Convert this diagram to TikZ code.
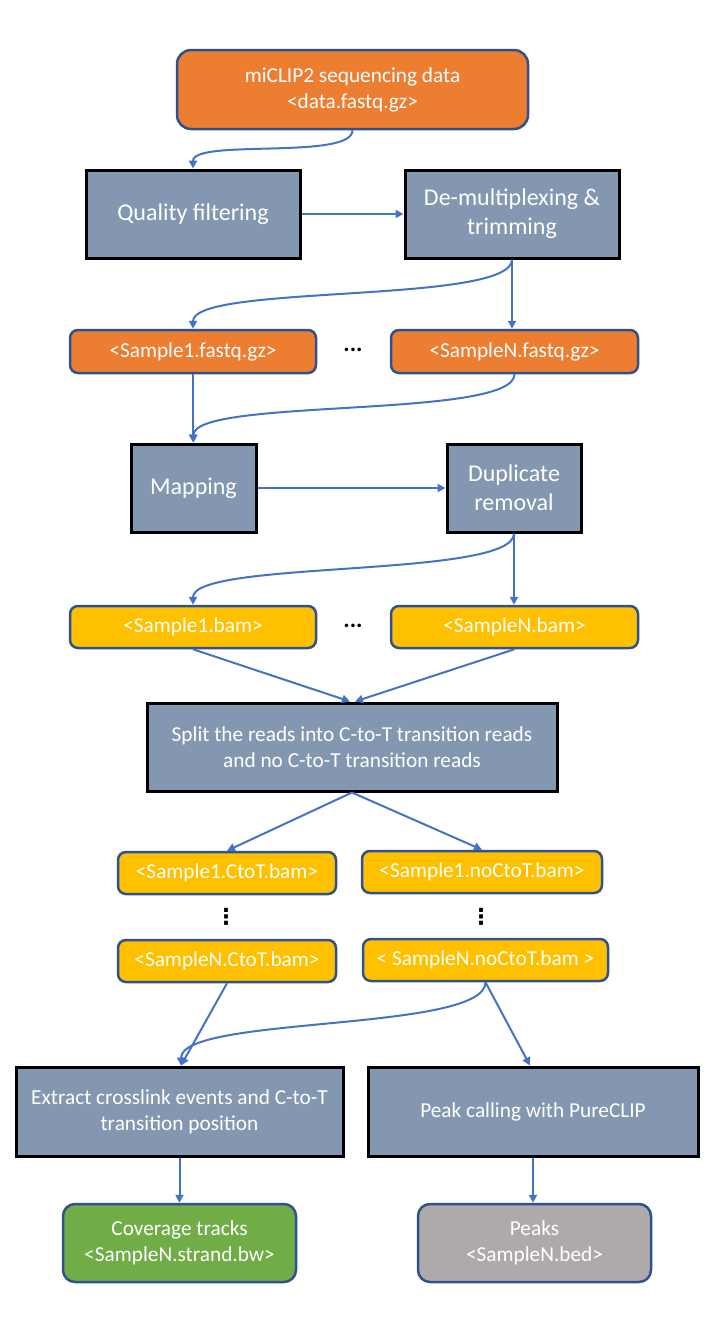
\documentclass[tikz,border=0pt]{standalone}
\usepackage{fontspec}
\setmainfont{Carlito}
\newfontfamily\dotsfont{DejaVu Sans}
\usetikzlibrary{arrows.meta}
\definecolor{fileorange}{HTML}{ED7D31}
\definecolor{fileyellow}{HTML}{FFC000}
\definecolor{stepgrey}{HTML}{8497B0}
\definecolor{boxblue}{HTML}{2F528F}
\definecolor{arrowblue}{HTML}{4472C4}
\definecolor{covgreen}{HTML}{70AD47}
\definecolor{peakgrey}{HTML}{AEAAAA}

\begin{document}
\begin{tikzpicture}[x=1pt,y=-1pt]
    \tikzset{%
      proc/.style={draw=black, line width=3pt, fill=stepgrey, text=white,
        align=center, inner sep=2pt},
      file/.style={draw=boxblue, line width=2.5pt, rounded corners=8pt,
        text=white, align=center, inner sep=2pt},
      link/.style={draw=arrowblue, line width=2pt,
        -{Triangle[length=8pt,width=8pt]}},
      big/.style={font=\fontsize{24}{29}\selectfont},
      small/.style={font=\fontsize{21.3}{26}\selectfont},
      hdots/.style={font=\fontsize{24}{24}\selectfont\bfseries},
      vdots/.style={font=\fontsize{22}{22}\dotsfont\bfseries},
    }
    \useasboundingbox (0,0) rectangle (720,1323);

    \node[file, small, fill=fileorange, rounded corners=14pt, minimum width=351pt,
      minimum height=79pt] (data) at (352.5,89.5)
      {miCLIP2 sequencing data\\<data.fastq.gz>};

    \node[proc, big, minimum width=214pt, minimum height=88pt] (qual) at (193,214)
      {Quality filtering};
    \node[proc, big, minimum width=214pt, minimum height=88pt] (demux) at (512,214)
      {De-multiplexing \&\\trimming};

    \node[file, small, fill=fileorange, minimum width=246pt, minimum height=43pt]
      (S1fq) at (193,351.5) {<Sample1.fastq.gz>};
    \node[hdots] (D1) at (353,350) {\textbf{...}};
    \node[file, small, fill=fileorange, minimum width=247pt, minimum height=43pt]
      (SNfq) at (514.5,351.5) {<SampleN.fastq.gz>};

    \node[proc, big, minimum width=125pt, minimum height=88pt] (map) at (193.5,488)
      {Mapping};
    \node[proc, big, minimum width=134pt, minimum height=88pt] (dup) at (514,488)
      {Duplicate\\removal};

    \node[file, small, fill=fileyellow, minimum width=246pt, minimum height=42pt]
      (S1bam) at (193,627) {<Sample1.bam>};
    \node[hdots] (D2) at (353,626) {\textbf{...}};
    \node[file, small, fill=fileyellow, minimum width=247pt, minimum height=42pt]
      (SNbam) at (514.5,627) {<SampleN.bam>};

    \node[proc, small, minimum width=410pt, minimum height=88pt] (split) at (352,747)
      {Split the reads into C-to-T transition reads\\and no C-to-T transition reads};

    \node[file, small, fill=fileyellow, minimum width=218pt, minimum height=42pt]
      (S1c) at (227,873) {<Sample1.CtoT.bam>};
    \node[file, small, fill=fileyellow, minimum width=240pt, minimum height=42pt]
      (S1n) at (482,872) {<Sample1.noCtoT.bam>};
    \node[vdots] (V1) at (226,917) {⋮};
    \node[vdots] (V2) at (481,917) {⋮};
    \node[file, small, fill=fileyellow, minimum width=218pt, minimum height=42pt]
      (SNc) at (227,961) {<SampleN.CtoT.bam>};
    \node[file, small, fill=fileyellow, minimum width=245pt, minimum height=42pt]
      (SNn) at (485.5,960) {< SampleN.noCtoT.bam >};

    \node[proc, small, minimum width=327pt, minimum height=89pt] (extr) at (179.5,1111.5)
      {Extract crosslink events and C-to-T\\transition position};
    \node[proc, small, minimum width=330pt, minimum height=89pt] (peak) at (533,1111.5)
      {Peak calling with PureCLIP};

    \node[file, small, fill=covgreen, rounded corners=12pt, minimum width=233pt,
      minimum height=78pt] (cov) at (179.5,1243)
      {Coverage tracks\\<SampleN.strand.bw>};
    \node[file, small, fill=peakgrey, rounded corners=12pt, minimum width=233pt,
      minimum height=78pt] (peaks) at (534.5,1243)
      {Peaks\\<SampleN.bed>};

    \draw [link] (data.south) .. controls +(0,30) and +(0,-30) .. (qual.north);
    \draw [link] (qual.east) -- (demux.west);
    \draw [link] (demux.south) .. controls +(0,45) and +(0,-45) .. (S1fq.north);
    \draw [link] (demux.south) -- (demux.south |- SNfq.north);

    \draw [link] (S1fq.south) -- (S1fq.south |- map.north);
    \draw [link] (SNfq.south) .. controls +(0,45) and +(0,-45) .. (map.north);
    \draw [link] (map.east) -- (dup.west);

    \draw [link] (dup.south) .. controls +(0,45) and +(0,-45) .. (S1bam.north);
    \draw [link] (dup.south) -- (dup.south |- SNbam.north);

    \draw [link] (S1bam.south) -- ([xshift=-2pt]split.north);
    \draw [link] (SNbam.south) -- ([xshift=3pt]split.north);
    \draw [link] (split.south) -- (S1c.north);
    \draw [link] (split.south) -- (S1n.north);

    \draw [link] (SNc.south) -- ([xshift=1.5pt]extr.north);
    \draw [link] (SNn.south) .. controls +(0,50) and +(0,-50) .. ([xshift=1.5pt]extr.north);
    \draw [link] (SNn.south) -- ([xshift=-3pt]peak.north);

    \draw [link] (extr.south) -- (cov.north);
    \draw [link] (peak.south) -- (peak.south |- peaks.north);
\end{tikzpicture}
\end{document}
